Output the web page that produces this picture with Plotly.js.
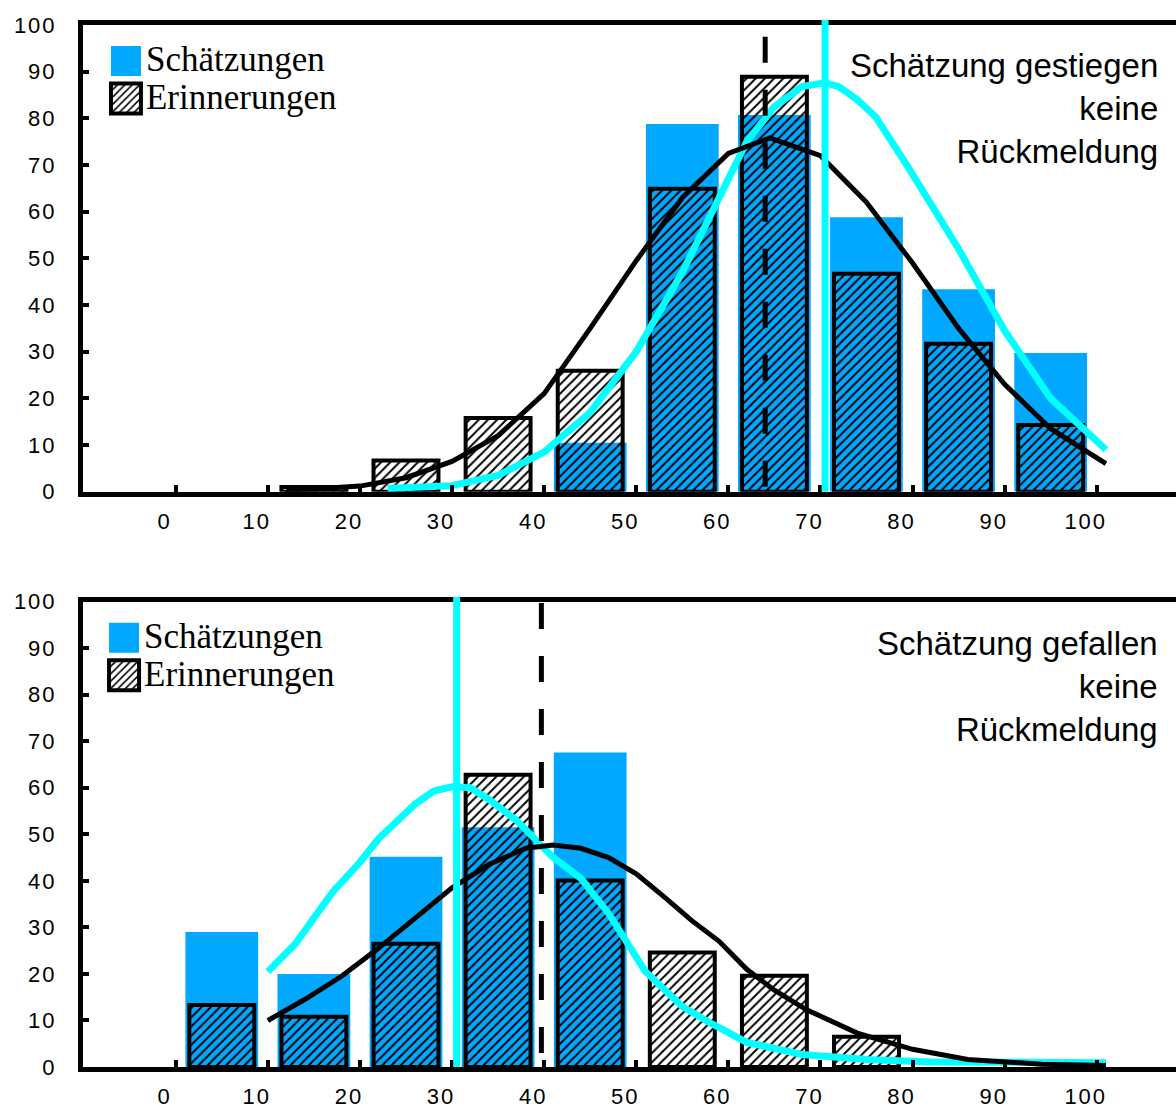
<!DOCTYPE html>
<html>
<head>
<meta charset="utf-8">
<script src="https://cdn.plot.ly/plotly-3.0.1.min.js"></script>
<style>
html,body{margin:0;padding:0;overflow:hidden;background:#fff}
#chart{width:1210px;height:1108px}
svg text.legendtext, g.traces text, g.legend2 text, .legend2 text{font-size:35px !important}
.legendpoints path{d:path("M15,15H-15V-15H15Z")}
.xtick text,.ytick text,.x2tick text,.y2tick text{letter-spacing:2px}
</style>
</head>
<body>
<div id="chart"></div>
<script>
// ---------- DATA ----------
const xTickVals = [0,10,20,30,40,50,60,70,80,90,100];
const xTickText = ['0','10','20','30','40','50','60','70','80','90','100'];

// top panel: Schätzung gestiegen, keine Rückmeldung
const topSchX = [45,55,65,75,85,95];
const topSchY = [10.5,78.8,80.7,58.8,43.4,29.7];
const topErX  = [15,25,35,45,55,65,75,85,95];
const topErY  = [1,6.7,15.8,25.9,64.9,88.9,46.7,31.7,14.3];
const topSchCurveX = [23,30,35,40,45,50,55,58,60,62,65,68,70.5,72,74,76,79.5,83,85,90,95,101];
const topSchCurveY = [0.7,1.3,3.5,8.5,17,30,47,58.8,66.5,75,82.5,86.8,87.6,86.8,84,80.3,69.6,58.8,52,34.5,20,9];
const topErCurveX = [12,15,20,25,30,35,40,45,50,55,60,64.5,70,75,80,85,90,95,101];
const topErCurveY = [0.5,0.6,1.2,3,6.5,12,21,35,49.5,63,72.5,75.8,72,62,49,35,23,13.5,6];
const topMeanEr  = 64;
const topMeanSch = 70.5;

// bottom panel: Schätzung gefallen, keine Rückmeldung
const botSchX = [5,15,25,35,45];
const botSchY = [29,20,45.2,51.5,67.6];
const botErX  = [5,15,25,35,45,55,65,75];
const botErY  = [13.3,10.8,26.5,62.8,40.1,24.6,19.6,6.5];
const botSchCurveX = [10,13,17,20,22,26,28,30,32,34,37,41,44,47,51,55,58,62,68,75,82,90,101];
const botSchCurveY = [20.5,26.5,37.5,44,49,56.5,59.3,60.2,60,57.5,53,45,40.5,33,20.5,13,9.5,5.3,2.7,1.6,1.1,1,0.9];
const botErCurveX = [10,14,18,22,26,30,34,38,41,44,47,50,53,56,59,62,65,68.5,74,80,86,94,101];
const botErCurveY = [10,14.5,19.5,25.5,32,38.5,43.5,47,47.7,47,45,41.5,36.6,31.5,27,21,16.5,12.3,7.3,3.8,1.6,0.6,0.3];
const botMeanEr  = 39.7;
const botMeanSch = 30.5;

const panelTexts = ['Schätzung gestiegen<br>keine<br>Rückmeldung','Schätzung gefallen<br>keine<br>Rückmeldung'];
const seriesNames = ['Schätzungen','Erinnerungen'];

// ---------- STYLE ----------
const BLUE = '#00A8FF', CYAN = '#00FFFF';
const hatch = {shape:'/', fgcolor:'black', bgcolor:'rgba(0,0,0,0)', size:6.5, solidity:0.3, fillmode:'replace'};

function panel(xa, ya, leg, schX, schY, erX, erY, scx, scy, ecx, ecy){
  return [
    {type:'bar', x:schX, y:schY, width:7.9, xaxis:xa, yaxis:ya, name:seriesNames[0], legend:leg,
     marker:{color:BLUE, line:{width:0}}},
    {type:'bar', x:erX, y:erY, width:7.05, xaxis:xa, yaxis:ya, name:seriesNames[1], legend:leg,
     marker:{color:'rgba(0,0,0,0)', line:{color:'black', width:4}, pattern:hatch}},
    {type:'scatter', mode:'lines', x:scx, y:scy, xaxis:xa, yaxis:ya, showlegend:false,
     line:{color:CYAN, width:7}},
    {type:'scatter', mode:'lines', x:ecx, y:ecy, xaxis:xa, yaxis:ya, showlegend:false,
     line:{color:'black', width:5}}
  ];
}

const data = [].concat(
  panel('x','y','legend', topSchX, topSchY, topErX, topErY, topSchCurveX, topSchCurveY, topErCurveX, topErCurveY),
  panel('x2','y2','legend2', botSchX, botSchY, botErX, botErY, botSchCurveX, botSchCurveY, botErCurveX, botErCurveY)
);

const tickFont = {family:'Liberation Sans, Arial, sans-serif', size:22, color:'black'};
function xAxis(anchor){
  return {anchor:anchor, domain:[0,1], range:[-10.07,112.08], showline:true, linecolor:'black', linewidth:5,
    mirror:true, ticks:'inside', ticklen:7, tickwidth:4, tickcolor:'black', tickvals:xTickVals, ticktext:xTickText,
    ticklabelshift:-11, ticklabelstandoff:6, showgrid:false, zeroline:false, tickfont:tickFont, fixedrange:true};
}
function yAxis(anchor, dom){
  return {anchor:anchor, domain:dom, range:[0,100], dtick:10, tick0:0, showline:true, linecolor:'black', linewidth:5,
    ticks:'inside', ticklen:6, tickwidth:4, tickcolor:'black', ticklabelstandoff:17, showgrid:false, zeroline:false,
    tickfont:tickFont, fixedrange:true};
}
function legFont(){ return {family:'Liberation Serif, Times New Roman, serif', size:26.5, color:'black'}; }

const layout = {
  width:1210, height:1108,
  margin:{l:83, r:2, t:25, b:41},
  paper_bgcolor:'white', plot_bgcolor:'white',
  barmode:'overlay', showlegend:true,
  xaxis:xAxis('y'), yaxis:yAxis('x',[0.5521,1]),
  xaxis2:xAxis('y2'), yaxis2:yAxis('x2',[0,0.4466]),
  legend:{x:0.0204, y:0.9882, xanchor:'left', yanchor:'top', bgcolor:'rgba(0,0,0,0)', borderwidth:0, font:legFont(), traceorder:'normal'},
  legend2:{x:0.0187, y:0.4347, xanchor:'left', yanchor:'top', bgcolor:'rgba(0,0,0,0)', borderwidth:0, font:legFont(), traceorder:'normal'},
  shapes:[
    {type:'line', xref:'x', yref:'y domain', x0:topMeanSch, x1:topMeanSch, y0:0, y1:1.0107, line:{color:CYAN, width:7}},
    {type:'line', xref:'x', yref:'y', x0:topMeanEr, x1:topMeanEr, y0:97.5, y1:0, line:{color:'black', width:5, dash:'26px,27px'}},
    {type:'line', xref:'x2', yref:'y2 domain', x0:botMeanSch, x1:botMeanSch, y0:0, y1:1.0101, line:{color:CYAN, width:7}},
    {type:'line', xref:'x2', yref:'y2', x0:botMeanEr, x1:botMeanEr, y0:99.7, y1:0, line:{color:'black', width:5, dash:'26px,27px'}}
  ],
  annotations:[
    {xref:'paper', yref:'paper', x:0.9573, y:0.9203, xanchor:'right', yanchor:'middle', align:'right', showarrow:false,
     text:panelTexts[0], font:{family:'Liberation Sans, Arial, sans-serif', size:33, color:'black'}},
    {xref:'paper', yref:'paper', x:0.9573, y:0.3647, xanchor:'right', yanchor:'middle', align:'right', showarrow:false,
     text:panelTexts[1], font:{family:'Liberation Sans, Arial, sans-serif', size:33, color:'black'}}
  ]
};

function fixLegend(){
  document.querySelectorAll('text').forEach(function(t){
    if (seriesNames.indexOf(t.textContent) >= 0) t.style.setProperty('font-size','35px','important');
  });
}
Plotly.newPlot('chart', data, layout, {displayModeBar:false, staticPlot:true}).then(function(){
  fixLegend();
  setTimeout(fixLegend, 0);
  setTimeout(fixLegend, 200);
});
</script>
</body>
</html>
